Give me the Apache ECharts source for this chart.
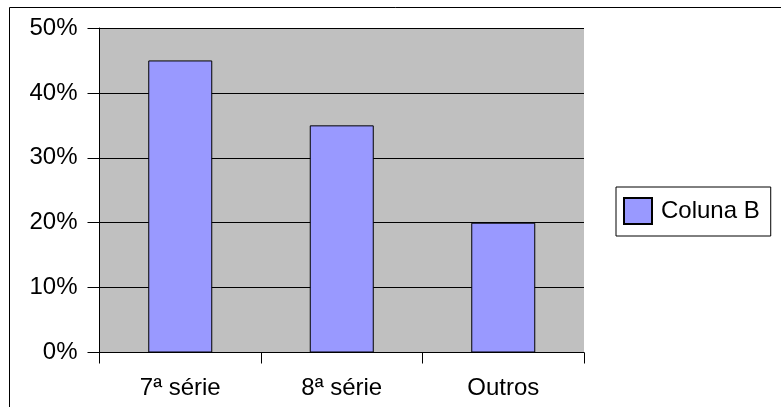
<!DOCTYPE html>
<html>
<head>
<meta charset="utf-8">
<script src="https://cdn.jsdelivr.net/npm/echarts@6/dist/echarts.min.js"></script>
<style>
html,body{margin:0;padding:0;background:#fff;}
#chart{width:781px;height:407px;}
</style>
</head>
<body>
<div id="chart"></div>
<script>
const categories = ['7ª série', '8ª série', 'Outros'];
const seriesName = 'Coluna B';
const values = [0.45, 0.35, 0.20];
const yTicks = [0, 0.1, 0.2, 0.3, 0.4, 0.5];

const chart = echarts.init(document.getElementById('chart'), null, {renderer: 'canvas'});
const font = 'Liberation Sans, Arial, sans-serif';
chart.setOption({
  animation: false,
  backgroundColor: '#ffffff',
  textStyle: {fontFamily: font},
  graphic: [{
    type: 'rect',
    shape: {x: 9.5, y: 7.5, width: 800, height: 420},
    style: {fill: null, stroke: '#000', lineWidth: 1},
    silent: true
  }],
  grid: {
    left: 99.5, right: 197, top: 28, bottom: 54.5,
    show: true, backgroundColor: '#C0C0C0', borderWidth: 0,
    outerBoundsMode: 'none'
  },
  legend: {
    show: true,
    data: [seriesName],
    orient: 'vertical',
    left: 616, top: 187,
    padding: [10, 11, 11, 7],
    borderColor: '#000', borderWidth: 1,
    backgroundColor: '#fff',
    itemWidth: 28, itemHeight: 26,
    textStyle: {fontSize: 24, color: '#000', fontFamily: font, padding: [0, 0, 0, 4]},
    icon: 'rect'
  },
  xAxis: {
    type: 'category',
    data: categories,
    boundaryGap: true,
    axisLine: {show: true, lineStyle: {color: '#000', width: 1}},
    axisTick: {show: true, length: 11, lineStyle: {color: '#000', width: 1}},
    axisLabel: {fontSize: 24, color: '#000', margin: 24, fontFamily: font},
    splitLine: {show: false}
  },
  yAxis: {
    type: 'value',
    min: yTicks[0], max: yTicks[yTicks.length - 1], interval: 0.1,
    axisLine: {show: true, lineStyle: {color: '#000', width: 1}},
    axisTick: {show: true, length: 12, lineStyle: {color: '#000', width: 1}},
    axisLabel: {
      fontSize: 24, color: '#000', margin: 22, fontFamily: font,
      formatter: v => Math.round(v * 100) + '%'
    },
    splitLine: {show: true, lineStyle: {color: '#000', width: 1}}
  },
  series: [{
    name: seriesName,
    type: 'bar',
    data: values,
    barWidth: 64,
    itemStyle: {color: '#9999FF', borderColor: '#000', borderWidth: 1}
  }]
});
</script>
</body>
</html>
